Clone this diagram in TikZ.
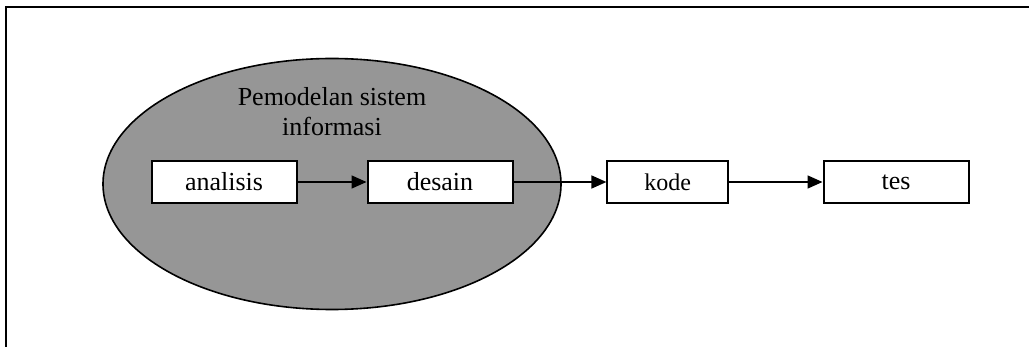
\documentclass[tikz,border=0pt]{standalone}
\usepackage{fontspec}
\setmainfont{Liberation Serif}
\usetikzlibrary{shapes.geometric,arrows.meta}
\definecolor{ovalgray}{gray}{0.59}

\begin{document}
\begin{tikzpicture}
[x=0.5pt,y=-0.5pt,%
  arrowDecorate/.style={-{Triangle[length=7.5pt,width=6.5pt]},line width=0.8pt},%
  boxDecorate/.style={shape=rectangle,draw,line width=1pt,fill=white,inner sep=0pt,
    minimum width=72.5pt,minimum height=21.3pt,font=\fontsize{13}{15}\selectfont},%
  ovalDecorate/.style={shape=ellipse,draw,line width=0.8pt,fill=ovalgray,inner sep=0pt,
    minimum width=229pt,minimum height=125.5pt}]
\useasboundingbox (0,0) rectangle (1029,347);
%% frame
\draw[line width=1pt] (6,347) -- (6,7) -- (1029,7);
%% oval and its title
\node (model) at (332,184) [ovalDecorate] {};
\node (title) at (332,112) [align=center,font=\fontsize{13}{15}\selectfont]
  {Pemodelan sistem\\informasi};
%% boxes
\foreach \nodename/\x/\y/\w/\fs in {analisis/224/182/72.5/13, desain/440/182/72.5/13,
  kode/667.7/182/60.3/12, tes/896/182/72.5/13}
{
  \node (\nodename) at (\x,\y) [boxDecorate,minimum width=\w pt,
    font=\fontsize{\fs}{15}\selectfont] {\nodename};
}
%% arrows
\path
\foreach \startnode/\endnode in {analisis/desain, desain/kode, kode/tes}
{
  (\startnode) edge[arrowDecorate] (\endnode)
};
\end{tikzpicture}
\end{document}
